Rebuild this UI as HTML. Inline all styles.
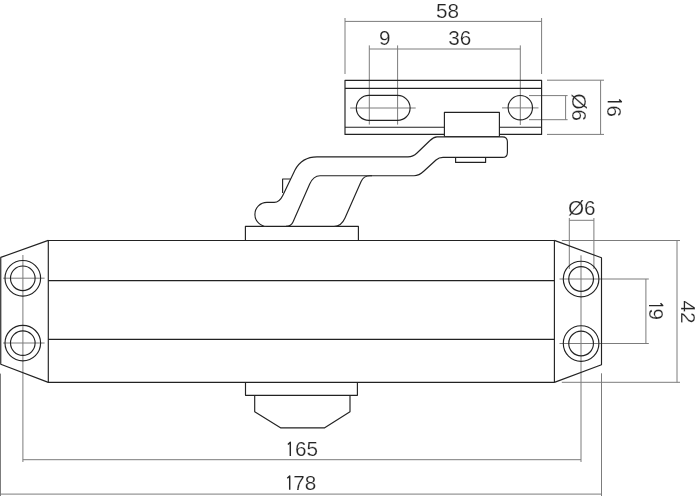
<!DOCTYPE html>
<html><head><meta charset="utf-8">
<style>
html,body{margin:0;padding:0;background:#fff;}
body{width:700px;height:497px;overflow:hidden;}
svg{display:block;}
text{font-family:"Liberation Sans",sans-serif;font-size:20.7px;fill:#262626;stroke:#fff;stroke-width:0.2;}
.m{stroke:#222;stroke-width:1.15;fill:none;stroke-linejoin:round;}
.mf{stroke:#222;stroke-width:1.15;fill:#fff;stroke-linejoin:round;}
.d{stroke:#7c7c7c;stroke-width:1;fill:none;}
.one{stroke:#262626;stroke-width:1.45;fill:none;stroke-linejoin:round;}
</style></head><body>
<svg width="700" height="497" viewBox="0 0 700 497">
<rect width="700" height="497" fill="#fff"/>

<!-- dimension lines -->
<g class="d">
<!-- 58 -->
<path d="M345 18V74M541.6 18V74M345 21.4H541.6"/>
<!-- 9 / 36 -->
<path d="M369.3 45.4V124.6M397.6 45.4V124.6M520.3 45.4V125M369.3 49H520.3"/>
<!-- slot/circle center lines -->
<path d="M350.2 108H415.7M502 107.9H538.5"/>
<!-- O6 top -->
<path d="M529 95.6H567.6M529 119.7H567.6M565.6 95.6V119.7"/>
<!-- 16 -->
<path d="M547 80.2H604M547 134.4H604M600.6 80.2V134.4"/>
<!-- O6 right -->
<path d="M569.3 218V269M593.9 218V269M569.3 220.3H593.9"/>
<!-- 42 -->
<path d="M561.8 240.5H680M561.8 382.3H680M677 240.5V382.3"/>
<!-- 19 -->
<path d="M559.5 279H648.8M559.5 343.5H648.8M645.9 279V343.5"/>
<!-- vertical center lines right -->
<path d="M581 255.3V462M601.5 373.3V496"/>
<!-- left -->
<path d="M22.9 255V462M0.5 373.6V496M3.1 278.2H44.6M3.1 343H44.6"/>
<!-- 165, 178 -->
<path d="M22.9 459.7H581M0.5 494.1H601.5"/>
</g>

<!-- body -->
<g class="m">
<path d="M48.3 240.45H554.4V382.35H48.3Z"/>
<path d="M48.3 280.6H554.4M48.3 339.3H554.4"/>
<path d="M48.3 240.4L0.75 257.4V364.3L48.3 382.35"/>
<path d="M554.4 240.4L601.5 257.8V364.8L554.4 382.35"/>
<circle cx="22.8" cy="278.3" r="17.8"/><circle cx="22.8" cy="278.3" r="12.3"/>
<circle cx="22.8" cy="343.1" r="17.8"/><circle cx="22.8" cy="343.1" r="12.3"/>
<circle cx="581.1" cy="279" r="17.8"/><circle cx="581.1" cy="279" r="12.35"/>
<circle cx="581.1" cy="343.5" r="17.8"/><circle cx="581.1" cy="343.5" r="12.35"/>
<!-- bottom part -->
<path d="M245.5 382.35V395.3H357.4V382.35"/>
<path d="M254.7 395.4V411.8L280.5 427.8H324.7L350 411.8V395.4"/>
<!-- base under arm -->
<path d="M245.4 240.4V226.4H358.4V240.4"/>
<!-- bracket -->
<path d="M345 80.3H541.6V134.4H345Z"/>
<path d="M345 88.3H541.6M345 127.2H541.6"/>
<rect x="356.3" y="95.4" width="53.8" height="25" rx="12.5"/>
<circle cx="520.3" cy="107.7" r="12.2"/>
</g>
<!-- block -->
<rect class="mf" x="444.4" y="112.4" width="55" height="24.2"/>
<!-- arm -->
<path class="mf" d="M437 136.8H502.4Q507.4 136.8 507.4 141.8V152.4Q507.4 157.4 502.4 157.4H443Q439 157.4 436 160L424 171Q419 175.7 414 175.7H370Q363.6 175.7 361.1 181.5L345 218Q341.3 226.4 334 226.4H266.9A12 12 0 0 1 266.9 202.4H274Q279.4 202.5 282.9 195.2L295 170Q302 156.9 317 156.9H408Q413 156.9 417 153L430 140.5Q433.5 136.8 437 136.8Z"/>
<path class="m" d="M372 175.7H320Q313.4 175.7 309.7 184L293 222Q291.1 226.4 286 226.4"/>
<path class="m" d="M455.6 157.4V162.4H485.6V157.4"/>
<path class="m" d="M290.6 179H282.6V193"/>

<!-- text -->
<g style="opacity:0.999">
<text x="447.6" y="18.4" text-anchor="middle">58</text>
<text x="384.7" y="45" text-anchor="middle">9</text>
<text x="459.8" y="45.3" text-anchor="middle">36</text>
<path class="one" id="g1" d="M-2.4 -11.5L0 -13.7V0" transform="translate(290.3,456)"/>
<text x="295" y="456">65</text>
<path class="one" d="M-2.4 -11.5L0 -13.7V0" transform="translate(289.7,489.7)"/>
<text x="293.2" y="489.7">78</text>
<text x="581.8" y="214.6" text-anchor="middle">Ø6</text>
<text transform="translate(571.8,107.2) rotate(90)" text-anchor="middle">Ø6</text>
<path class="one" d="M-2.4 -11.5L0 -13.7V0" transform="translate(607.7,101.8) rotate(90)"/>
<text transform="translate(607.4,105.5) rotate(90)">6</text>
<path class="one" d="M-2.4 -11.5L0 -13.7V0" transform="translate(649,305.6) rotate(90)"/>
<text transform="translate(649,308.6) rotate(90)">9</text>
<text transform="translate(681.2,312) rotate(90)" text-anchor="middle">42</text>
</g>
</svg>
</body></html>
